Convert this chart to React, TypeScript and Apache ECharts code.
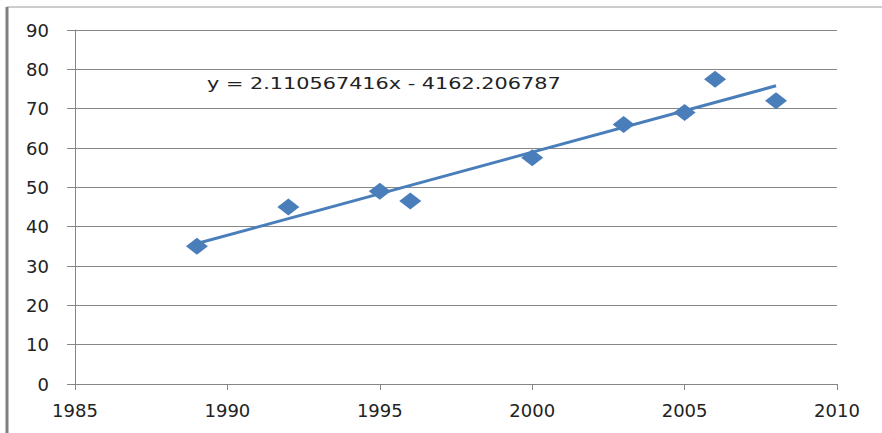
import React, { useEffect, useRef } from "react";
import * as echarts from "echarts";

const years = [1989, 1992, 1995, 1996, 2000, 2003, 2005, 2006, 2008];
const values = [35, 45, 49, 46.5, 57.5, 66, 69, 77.5, 72];
const slope = 2.110567416;
const intercept = -4162.206787;
const trendStart = 1989;
const trendEnd = 2008;
const equationText = "y = 2.110567416x - 4162.206787";

export default function App() {
  const ref = useRef<HTMLDivElement>(null);
  useEffect(() => {
    document.body.style.margin = "0";
    const chart = echarts.init(ref.current!, undefined, { renderer: "svg" });
    const blue = "#4a7ebb";
    const grey = "#868686";
    const font = "DejaVu Sans";
    chart.setOption({
      animation: false,
      backgroundColor: "#ffffff",
      grid: { left: 75, right: 45, top: 30, bottom: 49 },
      xAxis: {
        type: "value",
        min: 1985,
        max: 2010,
        interval: 5,
        axisLine: { show: true, lineStyle: { color: grey, width: 1 } },
        axisTick: { show: true, length: 6, lineStyle: { color: grey } },
        splitLine: { show: false },
        axisLabel: {
          color: "#222",
          fontFamily: font,
          fontSize: 18,
          margin: 17,
          formatter: (v: number) => String(v),
        },
      },
      yAxis: {
        type: "value",
        min: 0,
        max: 90,
        interval: 10,
        axisLine: { show: true, lineStyle: { color: grey, width: 1 } },
        axisTick: { show: true, length: 8, lineStyle: { color: grey } },
        splitLine: { show: true, lineStyle: { color: grey, width: 1 } },
        axisLabel: { color: "#222", fontFamily: font, fontSize: 18, margin: 26 },
      },
      series: [
        {
          type: "line",
          data: [
            [trendStart, slope * trendStart + intercept],
            [trendEnd, slope * trendEnd + intercept],
          ],
          showSymbol: false,
          symbol: "none",
          lineStyle: { color: blue, width: 3 },
          z: 2,
        },
        {
          type: "scatter",
          data: years.map((y, i) => [y, values[i]]),
          symbol: "diamond",
          symbolSize: [22, 17],
          itemStyle: { color: blue, opacity: 1 },
          z: 3,
        },
      ],
      graphic: [
        {
          type: "line",
          shape: { x1: 7, y1: 7, x2: 882, y2: 7 },
          style: { stroke: "#9a9a9a", lineWidth: 1 },
        },
        {
          type: "line",
          shape: { x1: 7, y1: 7, x2: 7, y2: 433 },
          style: { stroke: "#808080", lineWidth: 3 },
        },
        {
          type: "text",
          x: 207,
          y: 83,
          scaleX: 1.3,
          style: {
            text: equationText,
            fontFamily: font,
            fontSize: 16,
            fill: "#222",
            verticalAlign: "middle",
            align: "left",
          },
        },
      ],
    });
    return () => chart.dispose();
  }, []);
  return <div ref={ref} style={{ width: 882, height: 433 }} />;
}
